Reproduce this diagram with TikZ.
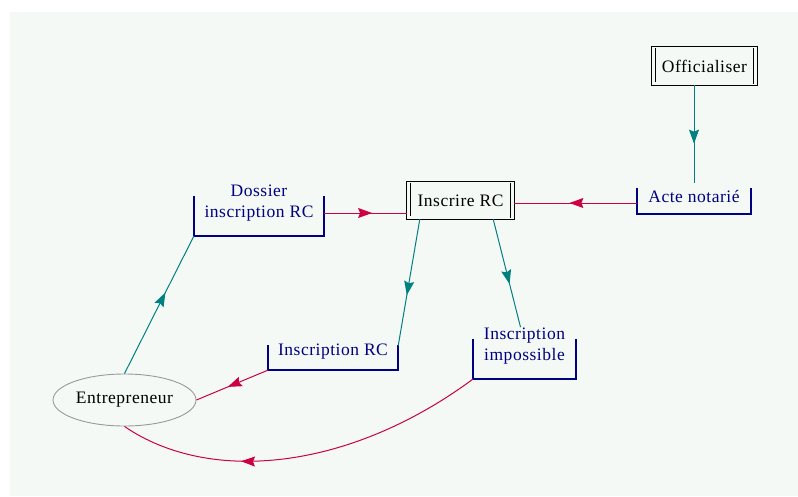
\documentclass[tikz,border=0pt]{standalone}
\usepackage{fontspec}
\setmainfont[LetterSpace=3]{Liberation Serif}
\usetikzlibrary{arrows.meta,decorations.markings,shapes.geometric}
\definecolor{bgc}{RGB}{244,249,246}
\definecolor{navyc}{RGB}{0,0,128}
\definecolor{tealc}{RGB}{0,128,128}
\definecolor{redc}{RGB}{204,0,68}
\newcommand\drawbracket[1]{\draw[bracketline] (#1.north west) |- (#1.south east) -- (#1.north east);}
\newcommand\drawproc[1]{%
  \draw[line width=1.2pt] (#1.north west) rectangle (#1.south east);
  \draw[line width=1.2pt] ([xshift=4pt,yshift=-1pt]#1.north west) -- ([xshift=4pt,yshift=3pt]#1.south west);
  \draw[line width=1.2pt] ([xshift=-4pt,yshift=-1pt]#1.north east) -- ([xshift=-4pt,yshift=1pt]#1.south east);}
\begin{document}
\begin{tikzpicture}[x=1pt,y=-1pt,
  font=\fontsize{17.5}{21}\selectfont,
  proc/.style={rectangle, draw=none, inner sep=0pt},
  databox/.style={rectangle, draw=none, inner sep=0pt},
  datatext/.style={inner sep=1pt, align=center, text=navyc},
  bracketline/.style={draw=navyc, line width=2.4pt, line cap=rect},
  midarrow/.style={postaction={decorate}, decoration={markings, mark=at position #1 with {\arrow{Stealth[length=14pt,width=10pt,inset=2pt]}}}},
  midarrow/.default=0.58,
  tealflow/.style={draw=tealc, line width=1pt},
  redflow/.style={draw=redc, line width=1pt}]
\useasboundingbox (0,0) rectangle (798,496);
\fill[bgc] (10,12) rectangle (798,496);

% process nodes
\node[proc, minimum width=105pt, minimum height=38pt] (offi) at (704.5,66) {Officialiser};
\drawproc{offi}
\node[proc, minimum width=107pt, minimum height=37pt] (inscrire) at (460.5,200.5) {Inscrire RC};
\drawproc{inscrire}

% data nodes
\node[databox, minimum width=114pt, minimum height=25pt] (acte) at (694,201.5) {};
\node[datatext] (actet) at (694,196) {Acte notarié};
\drawbracket{acte}
\node[databox, minimum width=130pt, minimum height=39pt] (dossier) at (259,216.5) {};
\node[datatext] (dossiert) at (259,203.5) {Dossier\\inscription RC};
\drawbracket{dossier}
\node[databox, minimum width=130pt, minimum height=24pt] (inscrc) at (333,358) {};
\node[datatext] (inscrct) at (333,352) {Inscription RC};
\drawbracket{inscrc}
\node[databox, minimum width=103pt, minimum height=39pt] (imposs) at (524.5,359.5) {};
\node[datatext] (impt) at (524.5,346.5) {Inscription\\impossible};
\drawbracket{imposs}

% entity
\node[ellipse, draw=gray!80, fill=bgc, line width=0.9pt, minimum width=143pt, minimum height=52pt, inner sep=0pt] (entre) at (124.5,400) {Entrepreneur};

% connectors
\draw[tealflow, midarrow=0.6] ([xshift=-10.5pt]offi.south) -- ([xshift=0pt,yshift=6pt]actet.north);
\draw[redflow, midarrow=0.55] ([yshift=-1.5pt]acte.west) -- ([yshift=-1.5pt]acte.west -| inscrire.east);
\draw[redflow, midarrow=0.58] ([yshift=3.5pt]dossier.east) -- ([yshift=3.5pt]dossier.east -| inscrire.west);
\draw[tealflow, midarrow=0.6] ([xshift=13pt]inscrire.south west) -- (inscrc.north east);
\draw[tealflow, midarrow=0.6] ([xshift=-21pt]inscrire.south east) -- ([xshift=-4pt]impt.north);
\draw[tealflow, midarrow=0.59] (entre.north) -- (dossier.south west);
\draw[redflow, midarrow=0.56] (inscrc.south west) -- (entre.east);
\draw[redflow, midarrow=0.67] (imposs.south west) .. controls (350,470) and (210,485) .. (entre.south);
\end{tikzpicture}
\end{document}
